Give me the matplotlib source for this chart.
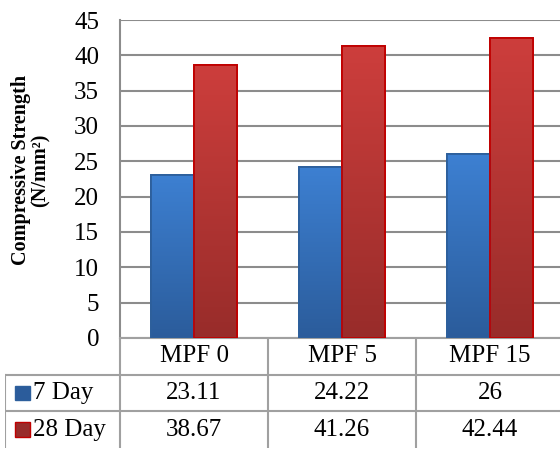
import matplotlib
matplotlib.use("Agg")
import matplotlib.pyplot as plt
import numpy as np
from matplotlib.patches import Rectangle
from matplotlib.colors import LinearSegmentedColormap

plt.rcParams['font.family'] = ['Liberation Serif', 'DejaVu Serif']

categories = ["MPF 0", "MPF 5", "MPF 15"]
series_names = ["7 Day", "28 Day"]
day7 = [23.11, 24.22, 26]
day28 = [38.67, 41.26, 42.44]
value_labels = [["23.11", "24.22", "26"], ["38.67", "41.26", "42.44"]]
yticks = [0, 5, 10, 15, 20, 25, 30, 35, 40, 45]

# (top colour, bottom colour, edge colour)
styles = [("#3d80d2", "#2b5c9b", "#2d5f9c"),
          ("#cd3e3c", "#982c2a", "#c00000")]

W, H = 560, 450
fig = plt.figure(figsize=(W / 100, H / 100), dpi=100)

# main plot area (extends slightly past the right edge like the original)
ax = fig.add_axes([120 / W, (H - 338) / H, 444 / W, 318 / H])
x = np.arange(len(categories))
bw = 0.29
offsets = [-bw / 2, bw / 2]


def gradient_bars(axis, xs, vals, width, style):
    top, bottom, edge = style
    cmap = LinearSegmentedColormap.from_list("g", [bottom, top])
    grad = np.linspace(0, 1, 256).reshape(-1, 1)
    bars = axis.bar(xs, vals, width, color=top, edgecolor=edge, linewidth=1.3, zorder=3)
    for b in bars:
        im = axis.imshow(grad, cmap=cmap, aspect="auto", origin="lower",
                         extent=[b.get_x(), b.get_x() + b.get_width(), 0, b.get_height()],
                         zorder=3.5)
        im.set_clip_path(b)
        axis.add_patch(Rectangle((b.get_x(), 0), b.get_width(), b.get_height(),
                                 fill=False, edgecolor=edge, linewidth=1.3, zorder=4))
    return bars


for vals, off, st in zip([day7, day28], offsets, styles):
    gradient_bars(ax, x + off, vals, bw, st)

ax.set_xlim(-0.5, 2.5)
ax.set_ylim(0, 45)
ax.set_yticks(yticks)
ax.set_xticks([])
ax.tick_params(axis="y", length=0, pad=15, labelsize=18)
ax.yaxis.grid(True, color="#8c8c8c", linewidth=1.5, zorder=0)
ax.set_axisbelow(True)
for s in ["top", "right"]:
    ax.spines[s].set_visible(False)
ax.spines["left"].set_color("#8c8c8c")
ax.spines["left"].set_linewidth(1.5)
ax.spines["bottom"].set_color("#a0a0a0")
ax.spines["bottom"].set_linewidth(1.5)

fig.text(21 / W, 1 - 170 / H, "Compressive Strength", rotation=90, ha="center",
         va="center", fontsize=14.5, fontweight="bold")
fig.text(41 / W, 1 - 170 / H, "(N/mm²)", rotation=90, ha="center",
         va="center", fontsize=14.5, fontweight="bold")

# data table below the plot
left_w = 115 / 148
tx = fig.add_axes([5 / W, 2 / H, 559 / W, 110 / H])
tx.set_xlim(-0.5 - left_w, 2.5)
tx.set_ylim(3, 0)
tx.axis("off")
lc = "#a0a0a0"
lw = 1.5
for r in [1, 2]:
    tx.plot([-0.5 - left_w, 2.5], [r, r], color=lc, lw=lw)
tx.plot([-0.5 - left_w] * 2, [1, 3], color=lc, lw=lw)
for vx in [-0.5, 0.5, 1.5]:
    tx.plot([vx, vx], [0, 3], color=lc, lw=lw)

for i, c in enumerate(categories):
    tx.text(i, 0.5, c, ha="center", va="center", fontsize=18)
for r, name in enumerate(series_names):
    y = r + 1.5
    top, bottom, edge = styles[r]
    x0 = -0.5 - left_w + 10 / 148
    tx.add_patch(Rectangle((x0, y - 0.2), 15 / 148, 0.4, facecolor=bottom,
                           edgecolor=edge, lw=1))
    tx.text(x0 + 18 / 148, y, name, ha="left", va="center", fontsize=18)
    for i in range(len(categories)):
        tx.text(i, y, value_labels[r][i], ha="center", va="center", fontsize=18)

fig.savefig("out.png", dpi=100)
